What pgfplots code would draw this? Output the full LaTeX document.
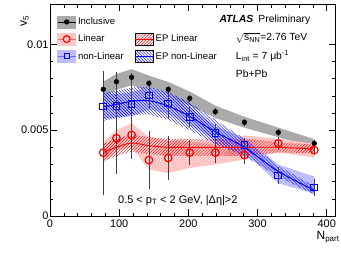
\documentclass[border=0pt]{standalone}
\usepackage{fontspec}
\setmainfont{Liberation Sans}
\usepackage{pgfplots}
\usepackage{pgfplotstable}
\pgfplotsset{compat=1.18}
\usetikzlibrary{patterns}
\definecolor{incgray}{RGB}{170,170,170}
\definecolor{linpink}{RGB}{255,198,198}
\definecolor{nlblue}{RGB}{190,190,255}
\newcommand\f{\fontsize{10.4}{12}\selectfont}
\newcommand\fl{\fontsize{9.6}{11}\selectfont}
\newcommand\ft{\fontsize{11}{13}\selectfont}

\pgfplotstableread{
x inc incerr lin linerr nl nlerr
77 0.00738 0.0002 0.00369 0.00245 0.00637 0.0021
96 0.00782 0.0002 0.00453 0.0021 0.00641 0.0020
118 0.00808 0.0002 0.00472 0.0014 0.00651 0.0018
143 0.00773 0.0002 0.00326 0.0017 0.00701 0.0008
171 0.00738 0.0002 0.00338 0.0013 0.00656 0.0009
202 0.00685 0.0002 0.00369 0.0007 0.00578 0.0006
239 0.00607 0.0002 0.00369 0.0006 0.00485 0.0005
281 0.00546 0.0002 0.00355 0.0005 0.00413 0.0004
330 0.00487 0.0002 0.00423 0.0004 0.00235 0.0005
382 0.00423 0.0002 0.00384 0.0003 0.00167 0.0005
}\data

\pgfplotstableread{
x epl epn
77 0.0037 0.00635
96 0.0040 0.0065
118 0.00425 0.00668
143 0.0041 0.00672
171 0.0040 0.0064
202 0.0040 0.0058
239 0.0040 0.0049
281 0.0040 0.0040
330 0.0040 0.0026
382 0.0039 0.0015
}\eplines

\begin{document}
\begin{tikzpicture}[font=\f]
\path[use as bounding box] (-50bp,-39bp) rectangle (291bp,216bp);
\begin{axis}[
  at={(0,0)}, anchor=south west, scale only axis,
  width=285.7bp, height=212bp,
  xmin=0, xmax=413, ymin=0, ymax=0.01235,
  xtick={0,100,200,300,400}, xticklabels={0,100,200,300,400},
  minor x tick num=4,
  ytick={0,0.005,0.01}, yticklabels={0,0.005,0.01},
  minor y tick num=4,
  tick align=inside, major tick length=7bp, minor tick length=3.5bp,
  axis line style={line width=0.7pt},
  every tick/.style={black, line width=0.6pt},
  tick label style={font=\ft},
  yticklabel style={xshift=2bp},
  /pgf/number format/assume math mode=true,
  xlabel={N\textsubscript{part}},
  ylabel={v\textsubscript{5}},
  xlabel style={at={(axis description cs:1.014,-0.071)}, anchor=north east, inner sep=0pt, font=\fontsize{12}{14}\selectfont},
  ylabel style={at={(axis description cs:-0.0735,0.948)}, anchor=south east, inner sep=0pt, font=\fontsize{12}{14}\selectfont},
  legend columns=2,
  legend style={at={(axis description cs:0.0145,0.955)}, anchor=north west,
    draw=none, fill=none, font=\fl, row sep=4.8bp,
    /tikz/column 2/.style={column sep=9bp}},
  legend cell align=left,
]
% legend entries
\addlegendimage{legend image code/.code={
  \fill[incgray] (0bp,-6bp) rectangle (18bp,6bp);
  \draw[black,line width=0.7pt] (0bp,0bp) -- (18bp,0bp);
  \fill[black] (9bp,0bp) circle[radius=2.4bp];}}
\addlegendentry{Inclusive}
\addlegendimage{legend image code/.code={}}
\addlegendentry{}
\addlegendimage{legend image code/.code={
  \fill[linpink] (0bp,-6bp) rectangle (18bp,6bp);
  \draw[red!60,line width=0.7pt] (0bp,0bp) -- (18bp,0bp);
  \draw[red,line width=1.2pt,fill=linpink] (9bp,0bp) circle[radius=3.4bp];}}
\addlegendentry{Linear}
\addlegendimage{legend image code/.code={
  \fill[pattern=north east lines, pattern color=red] (0bp,-6bp) rectangle (18bp,6bp);
  \draw[red,line width=0.9pt] (0bp,0bp) -- (18bp,0bp);}}
\addlegendentry{EP Linear}
\addlegendimage{legend image code/.code={
  \fill[nlblue] (0bp,-6bp) rectangle (18bp,6bp);
  \draw[blue!60,line width=0.7pt] (0bp,0bp) -- (18bp,0bp);
  \draw[blue,line width=1pt,fill=nlblue] (6.5bp,-2.5bp) rectangle (11.5bp,2.5bp);}}
\addlegendentry{non-Linear}
\addlegendimage{legend image code/.code={
  \fill[pattern=north west lines, pattern color=blue] (0bp,-6bp) rectangle (18bp,6bp);
  \draw[blue,line width=0.9pt] (0bp,0bp) -- (18bp,0bp);}}
\addlegendentry{EP non-Linear}

% Inclusive systematic band
\addplot[fill=incgray, draw=none, forget plot] coordinates {
(77,0.00782) (96,0.00828) (118,0.00855) (143,0.00818) (171,0.00781) (202,0.00725) (239,0.00643) (281,0.00578) (330,0.00515) (382,0.00448)
(382,0.00398) (330,0.00459) (281,0.00514) (239,0.00571) (202,0.00645) (171,0.00695) (143,0.00728) (118,0.00761) (96,0.00736) (77,0.00694)};
% Linear systematic band
\addplot[fill=linpink, draw=none, forget plot] coordinates {
(77,0.0043) (96,0.0050) (118,0.0054) (143,0.0046) (171,0.0044) (202,0.0043) (239,0.0042) (281,0.0047) (330,0.0045) (382,0.0042)
(382,0.0034) (330,0.0037) (281,0.0033) (239,0.0030) (202,0.0028) (171,0.0025) (143,0.0027) (118,0.0040) (96,0.0038) (77,0.0031)};
% non-Linear systematic band
\addplot[fill=nlblue, draw=none, forget plot] coordinates {
(77,0.00707) (96,0.00711) (118,0.00721) (143,0.0075) (171,0.00716) (202,0.00628) (239,0.00525) (281,0.00453) (330,0.0030) (382,0.0023)
(382,0.0013) (330,0.0019) (281,0.00373) (239,0.00445) (202,0.00528) (171,0.00596) (143,0.0062) (118,0.00581) (96,0.00571) (77,0.00567)};
% EP Linear band
\addplot[pattern=north east lines, pattern color=red, draw=none, forget plot] coordinates {
(77,0.0042) (96,0.0045) (118,0.00475) (143,0.0046) (171,0.0045) (202,0.0045) (239,0.0045) (281,0.0045) (330,0.0043) (382,0.00415)
(382,0.00365) (330,0.0037) (281,0.0035) (239,0.0035) (202,0.0035) (171,0.0035) (143,0.0036) (118,0.00375) (96,0.0035) (77,0.0032)};
% EP non-Linear band
\addplot[pattern=north west lines, pattern color=blue, draw=none, forget plot] coordinates {
(77,0.00715) (96,0.0073) (118,0.00748) (143,0.00752) (171,0.0072) (202,0.0066) (239,0.0056) (281,0.0045) (330,0.0029) (382,0.00175)
(382,0.00125) (330,0.0023) (281,0.0035) (239,0.0042) (202,0.0050) (171,0.0056) (143,0.00592) (118,0.00588) (96,0.0057) (77,0.00555)};

% EP lines
\addplot[red, line width=0.9pt, smooth, no marks, forget plot] table[x=x, y=epl] {\eplines};
\addplot[blue, line width=1pt, smooth, no marks, forget plot] table[x=x, y=epn] {\eplines};

% error bars
\addplot[draw=none, no marks, forget plot, error bars/.cd, y dir=both, y explicit, error mark=none,
  error bar style={black!75, line width=0.6pt}] table[x=x, y=lin, y error=linerr] {\data};
\addplot[draw=none, no marks, forget plot, error bars/.cd, y dir=both, y explicit, error mark=none,
  error bar style={black!75, line width=0.6pt}] table[x=x, y=nl, y error=nlerr] {\data};
\addplot[draw=none, no marks, forget plot, error bars/.cd, y dir=both, y explicit, error mark=none,
  error bar style={black!75, line width=0.6pt}] table[x=x, y=inc, y error=incerr] {\data};

% points
\addplot[only marks, mark=*, mark size=2.4bp, black, forget plot] table[x=x, y=inc] {\data};
\addplot[only marks, mark=o, mark size=3.8bp, red, line width=1.2pt, forget plot] table[x=x, y=lin] {\data};
\addplot[only marks, mark=square, mark size=3.3bp, blue, line width=1pt, forget plot] table[x=x, y=nl] {\data};

% annotations
\node[anchor=base west, inner sep=0pt] at (axis description cs:0.5926,0.915) {\textbf{\textit{ATLAS}}\hspace{0.5em}Preliminary};
\node[anchor=base west, inner sep=0pt] at (axis description cs:0.650,0.827) {$\sqrt{\mbox{s\textsubscript{NN}}}$=2.76 TeV};
\node[anchor=base west, inner sep=0pt] at (axis description cs:0.650,0.739) {L\textsubscript{int} = 7 μb\textsuperscript{-1}};
\node[anchor=base west, inner sep=0pt] at (axis description cs:0.650,0.654) {Pb+Pb};
\node[anchor=base west, inner sep=0pt, font=\ft] at (axis description cs:0.238,0.06) {0.5 < p\textsubscript{T} < 2 GeV, |Δη|>2};
\end{axis}
\end{tikzpicture}
\end{document}
